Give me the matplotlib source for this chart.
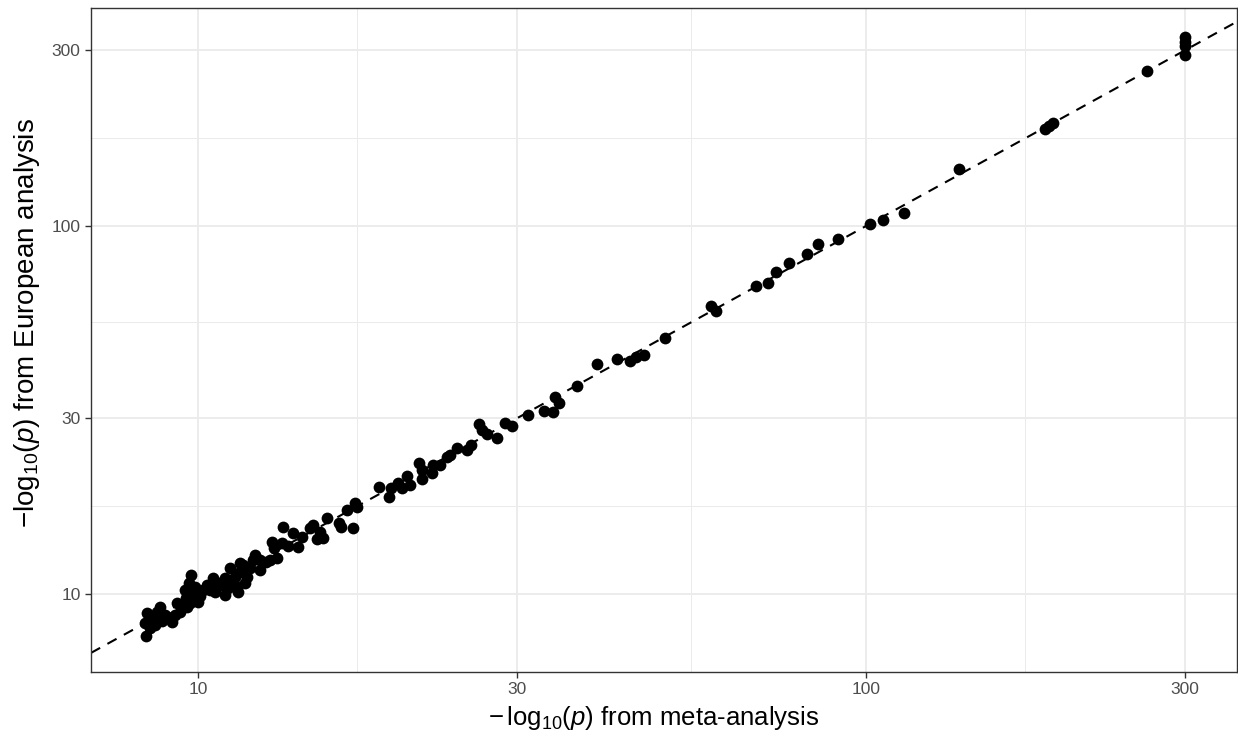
import matplotlib
matplotlib.use("Agg")
import matplotlib.pyplot as plt
import numpy as np

plt.rcParams["font.family"] = ["Liberation Sans", "DejaVu Sans"]
plt.rcParams["mathtext.fontset"] = "custom"
plt.rcParams["mathtext.rm"] = "Liberation Sans"
plt.rcParams["mathtext.it"] = "Liberation Sans:italic"

# -log10(p) per locus: meta-analysis vs European-only analysis
meta_p = [
    8.36, 8.33, 8.39, 8.48, 8.53, 8.62, 8.68, 8.71, 8.77, 8.83,
    8.92, 8.99, 9.08, 9.14, 9.24, 9.30, 9.40, 9.50, 9.56, 9.59,
    9.63, 9.69, 9.73, 9.73, 9.76, 9.79, 9.83, 9.90, 9.97, 10.0,
    10.07, 10.17, 10.31, 10.42, 10.53, 10.53, 10.60, 10.71, 10.86, 10.97,
    10.97, 11.09, 11.17, 11.28, 11.36, 11.44, 11.48, 11.56, 11.56, 11.68,
    11.76, 11.84, 11.96, 12.09,
    12.17, 12.38, 12.38, 12.64, 12.82, 12.90, 12.99, 13.13, 13.36, 13.41,
    13.64, 13.87, 14.11, 14.31, 14.71, 14.86, 15.07, 15.22, 15.38, 15.60,
    16.25, 16.37, 16.71, 17.06, 17.18, 17.30,
    18.66, 19.31, 19.45, 19.92, 20.19, 20.55, 20.76, 21.41, 21.63, 21.63,
    22.39, 22.47, 23.02, 23.58, 23.83, 24.41, 25.27, 25.62, 26.33, 26.61,
    27.07, 28.02, 28.8, 29.5, 31.2, 33.0, 34.0, 34.2, 34.7, 36.9,
    39.5, 42.4, 44.3, 45.2, 46.5, 50.1, 58.6, 59.6, 68.5, 71.3,
    73.3, 76.6, 81.5, 84.7, 90.7, 101.3, 105.9, 113.9, 137.6, 185.1,
    187.7, 190.3, 263.0, 300.0, 300.0, 300.0, 300.0,
]
eur_p = [
    7.69, 8.34, 8.88, 8.08, 8.50, 8.24, 8.93, 8.50, 9.22, 8.45,
    8.77, 8.66, 8.61, 8.39, 8.77, 9.45, 8.93, 9.22, 10.25, 9.75,
    9.22, 10.71, 9.81, 9.45, 11.26, 10.25, 10.06, 10.45, 10.25, 9.51,
    9.88, 10.25, 10.58, 10.25, 11.05, 10.25, 10.13, 10.71, 10.58, 11.05,
    9.94, 10.38, 11.77, 10.78, 11.12, 10.45, 10.13, 12.14, 11.48, 11.99,
    10.71, 11.12, 11.77, 12.37,
    12.76, 12.37, 11.62, 12.22, 12.37, 13.84, 13.34, 12.52, 13.76, 15.21,
    13.50, 14.65, 13.42, 14.28, 15.11, 15.40, 14.11, 14.74, 14.20, 16.09,
    15.59, 15.21, 16.92, 15.11, 17.68, 17.24,
    19.54, 18.35, 19.41, 20.03, 19.41, 20.93, 19.79, 22.70, 21.73, 20.54,
    21.33, 22.41, 22.41, 23.57, 23.86, 24.93, 24.62, 25.41, 28.97, 27.91,
    27.22, 26.54, 29.2, 28.6, 30.6, 31.4, 31.2, 34.3, 33.0, 36.7,
    42.2, 43.5, 43.0, 44.1, 44.6, 49.6, 60.7, 58.8, 68.7, 70.0,
    75.0, 79.3, 83.9, 89.4, 92.2, 101.3, 103.8, 108.5, 142.8, 183.5,
    186.9, 190.5, 263.8, 326.0, 316.0, 308.0, 292.0,
]

major_breaks = [10, 30, 100, 300]
minor_breaks = [np.sqrt(10 * 30), np.sqrt(30 * 100), np.sqrt(100 * 300)]
x_lim = (6.92, 359)
y_lim = (6.14, 391)

fig = plt.figure(figsize=(12.38, 7.33), dpi=100)
ax = fig.add_axes([0.0735, 0.0832, 0.9257, 0.9059])

ax.set_xscale("log")
ax.set_yscale("log")
ax.set_xlim(x_lim)
ax.set_ylim(y_lim)

ax.set_xticks(major_breaks)
ax.set_yticks(major_breaks)
ax.set_xticklabels([str(b) for b in major_breaks])
ax.set_yticklabels([str(b) for b in major_breaks])
ax.set_xticks(minor_breaks, minor=True)
ax.set_yticks(minor_breaks, minor=True)
ax.tick_params(which="minor", length=0, labelbottom=False, labelleft=False)
ax.tick_params(which="major", length=4.5, width=1.0, color="#333333",
               labelsize=12.5, labelcolor="#4D4D4D", pad=3)

ax.grid(which="major", color="#EBEBEB", linewidth=1.3)
ax.grid(which="minor", color="#EBEBEB", linewidth=0.7)
ax.set_axisbelow(True)
for s in ax.spines.values():
    s.set_color("#333333")
    s.set_linewidth(1.0)

# identity line
ax.plot(x_lim, x_lim, color="black", linewidth=1.5, linestyle=(0, (5, 4)), zorder=2)
ax.scatter(meta_p, eur_p, s=72, color="black", linewidths=0, zorder=3)

ax.set_xlabel(r"$-\,\mathrm{log}_{10}(p)$ from meta-analysis", fontsize=18.5)
ax.set_ylabel(r"$-\mathrm{log}_{10}(p)$ from European analysis", fontsize=20)
ax.xaxis.set_label_coords(0.491, -0.048)
ax.yaxis.set_label_coords(-0.043, 0.525)

fig.savefig("out.png", dpi=100)
